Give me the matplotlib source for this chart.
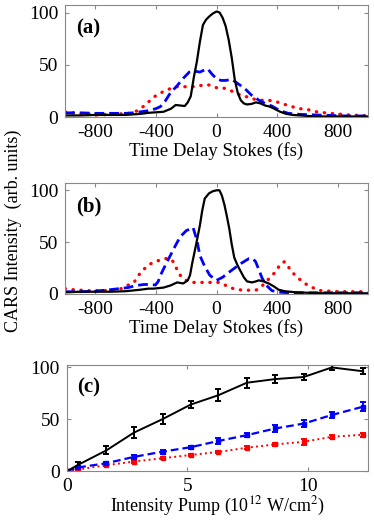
import numpy as np
import matplotlib
matplotlib.use('Agg')
import matplotlib.pyplot as plt

plt.rcParams['font.family'] = ['Liberation Serif', 'DejaVu Serif']
plt.rcParams['mathtext.fontset'] = 'stix'
plt.rcParams['axes.unicode_minus'] = False

# ------------------------------- panel (a) data ------------------------------- #
t_a_black = [-1000, -900, -800, -700, -600, -500, -450, -400, -350, -300, -270, -240,
             -210, -190, -170, -150, -130, -110, -90, -70, -50, -25, 0, 20, 40, 60, 80,
             100, 120, 140, 160, 180, 200, 230, 260, 290, 320, 350, 380, 420, 460, 500,
             600, 700, 800, 900, 1000]
a_black = [1.5, 1.5, 2, 2, 2, 3, 4, 4.5, 5, 8, 11.5, 11, 10.5, 14, 20, 38, 53, 72, 88, 93,
           96, 99, 101, 100, 95, 87, 74, 57, 36, 23, 16, 13, 12, 12.5, 14, 13, 11, 10, 8, 5,
           3, 2, 1, 0.5, 0.5, 0.5, 0.5]

t_a_blue = [-1000, -900, -800, -700, -600, -550, -500, -450, -400, -370, -340, -305, -260,
            -220, -180, -150, -110, -80, -58, -30, 0, 30, 60, 100, 130, 160, 195, 230, 280,
            320, 365, 420, 475, 550, 650, 750, 850, 1000]
a_blue = [4, 4, 3.5, 3.5, 3.5, 4, 5, 6, 8, 10, 15, 23, 30, 37, 43, 44, 43, 45, 46, 41, 36.5,
          35, 35, 36, 33, 30, 26, 21, 16, 13, 10.5, 6, 3.5, 2.5, 2, 1.5, 1, 1]

t_a_red = [-1000, -950, -900, -850, -800, -750, -700, -650, -600, -550, -500, -460, -415,
           -370, -325, -290, -260, -220, -155, -110, -65, -30, 0, 40, 80, 130, 170, 215, 250,
           280, 315, 345, 380, 410, 450, 495, 550, 605, 660, 715, 790, 865, 940, 1000]
a_red = [5, 4, 3, 3, 2, 2, 3, 3, 3, 4, 8, 13, 19, 23, 26, 28, 29, 29, 29, 30, 31, 30, 28, 28,
         26, 23, 20, 19, 17, 16, 16, 16, 15, 14, 12, 10, 8, 7, 5, 4, 3, 2, 1.5, 1]

# ------------------------------- panel (b) data ------------------------------- #
t_b_black = [-1000, -900, -800, -700, -600, -500, -450, -415, -350, -305, -260, -220, -190,
             -175, -160, -140, -125, -110, -95, -78, -50, -26, 0, 19, 35, 52, 68, 84, 100,
             117, 140, 162, 180, 201, 234, 260, 279, 310, 344, 380, 409, 450, 519, 600, 700,
             800, 900, 1000]
b_black = [1.5, 2, 2, 2, 2.5, 4, 5, 5, 6, 8, 11, 10, 13, 18, 30, 44, 55, 66, 80, 92, 97, 99,
           100, 100, 95, 86, 75, 63, 48, 35, 27, 21, 16, 12, 11, 12, 13, 12, 10, 7, 4, 2.5,
           1.5, 1, 0.5, 0.5, 0.5, 0.5]

t_b_blue = [-1000, -900, -805, -700, -585, -530, -480, -440, -403, -385, -370, -340, -305,
            -270, -240, -200, -155, -130, -110, -80, -45, -20, 0, 40, 84, 130, 169, 214, 240,
            258, 280, 301, 330, 366, 420, 474, 550, 650, 750, 850, 1000]
b_blue = [2, 2, 2.5, 4, 6, 8, 9, 9, 8.5, 12, 18, 27, 37, 47, 55, 61, 64, 52, 37, 27, 18, 15,
          13, 16, 21, 26, 30, 34, 34, 31, 23, 15, 8, 3, 1.5, 1, 1, 1, 1, 1, 1]

t_b_red = [-1000, -950, -900, -850, -800, -750, -700, -630, -590, -545, -500, -470, -435,
           -400, -370, -335, -305, -280, -260, -240, -220, -190, -155, -100, -45, 0, 19, 50,
           84, 130, 169, 215, 260, 290, 323, 355, 388, 410, 430, 450, 474, 505, 540, 575,
           604, 650, 690, 750, 800, 850, 900, 950, 1000]
b_red = [5, 4, 3.5, 3, 3, 3, 3.5, 5, 8, 11, 21, 25, 29, 31, 33, 34, 34, 30, 23, 18, 15, 12,
         11, 11, 11, 11, 11, 9, 6, 4.5, 3.5, 3.5, 3.5, 6, 11, 16, 21, 26, 30, 31, 26, 20, 15,
         11, 8, 5, 3, 2.5, 2, 2, 2, 2, 2]

# ------------------------------- panel (c) data ------------------------------- #
pump = [0, 0.46, 1.64, 2.78, 3.97, 5.14, 6.29, 7.47, 8.65, 9.83, 11.0, 12.3]
c_black = [0, 6, 20, 37, 50, 64, 73, 85, 88.5, 90.5, 99.7, 96]
c_black_err = [0, 3, 4, 5, 5, 3, 6, 5, 4, 3, 2, 3]
c_blue = [0, 3.5, 7.6, 13.7, 18.7, 23, 29, 34.6, 41, 45.7, 54, 62]
c_blue_err = [0, 1.5, 1.5, 2, 2, 1.5, 2.5, 2, 3, 3, 3, 4]
c_red = [0, 1.5, 5.7, 9.2, 12.4, 15.5, 18.4, 22.5, 25.7, 28.2, 33, 35]
c_red_err = [0, 1, 1, 1, 1, 1, 1, 1.5, 1.5, 3, 1.5, 2]

FS = 13
TFS = 14
GRAY = '#888888'


def style_axes(ax):
    for s in ax.spines.values():
        s.set_color(GRAY)
        s.set_linewidth(0.8)
    ax.tick_params(direction='in', top=True, right=True, color=GRAY, length=3,
                   labelsize=TFS, pad=5)


fig = plt.figure(figsize=(3.74, 5.2), dpi=100)
ax_a = fig.add_axes([0.174, 0.775, 0.810, 0.215])
ax_b = fig.add_axes([0.174, 0.435, 0.810, 0.213])
ax_c = fig.add_axes([0.179, 0.094, 0.805, 0.204])

# ----------------------------- delay scans (a, b) ----------------------------- #
for ax, d, lab in [(ax_a, (t_a_black, a_black, t_a_blue, a_blue, t_a_red, a_red), '(a)'),
                   (ax_b, (t_b_black, b_black, t_b_blue, b_blue, t_b_red, b_red), '(b)')]:
    ax.plot(d[4], d[5], color='red', lw=2.4, ls=(0, (0.1, 2.3)), dash_capstyle='round')
    ax.plot(d[2], d[3], color='blue', lw=2.0, ls=(0, (3.5, 1.8)))
    ax.plot(d[0], d[1], color='black', lw=1.6)
    ax.set_xlim(-1000, 1000)
    ax.set_ylim(0, 107)
    ax.set_xticks([-800, -400, 0, 400, 800])
    ax.set_yticks([0, 50, 100])
    ax.set_xlabel('Time Delay Stokes (fs)', fontsize=FS + 0.5, labelpad=1)
    ax.text(0.035, 0.79, lab, transform=ax.transAxes, fontsize=15, fontweight='bold',
            va='center')
    style_axes(ax)

# ----------------------------- pump dependence (c) ----------------------------- #
ax_c.errorbar(pump, c_red, yerr=c_red_err, color='red', lw=1.4, ls=':', marker='s',
              ms=3.5, capsize=2.5, elinewidth=1.4, capthick=1.4)
ax_c.errorbar(pump, c_blue, yerr=c_blue_err, color='blue', lw=1.6, ls='--', marker='s',
              ms=3, capsize=2.5, elinewidth=1.4, capthick=1.4, dashes=(3.5, 1.8))
ax_c.errorbar(pump, c_black, yerr=c_black_err, color='black', lw=1.4, ls='-',
              capsize=2.5, elinewidth=1.4, capthick=1.4)
ax_c.set_xlim(0, 12.5)
ax_c.set_ylim(0, 102)
ax_c.set_xticks([0, 5, 10])
ax_c.set_yticks([0, 50, 100])
ax_c.set_xlabel('Intensity Pump (10$^{12}$ W/cm$^{2}$)', fontsize=FS, labelpad=0)
ax_c.text(0.035, 0.79, '(c)', transform=ax_c.transAxes, fontsize=15, fontweight='bold',
          va='center')
style_axes(ax_c)

fig.text(0.035, 0.557, 'CARS Intensity  (arb. units)', rotation=90, fontsize=FS,
         ha='center', va='center')

fig.savefig('out.png', dpi=100)
